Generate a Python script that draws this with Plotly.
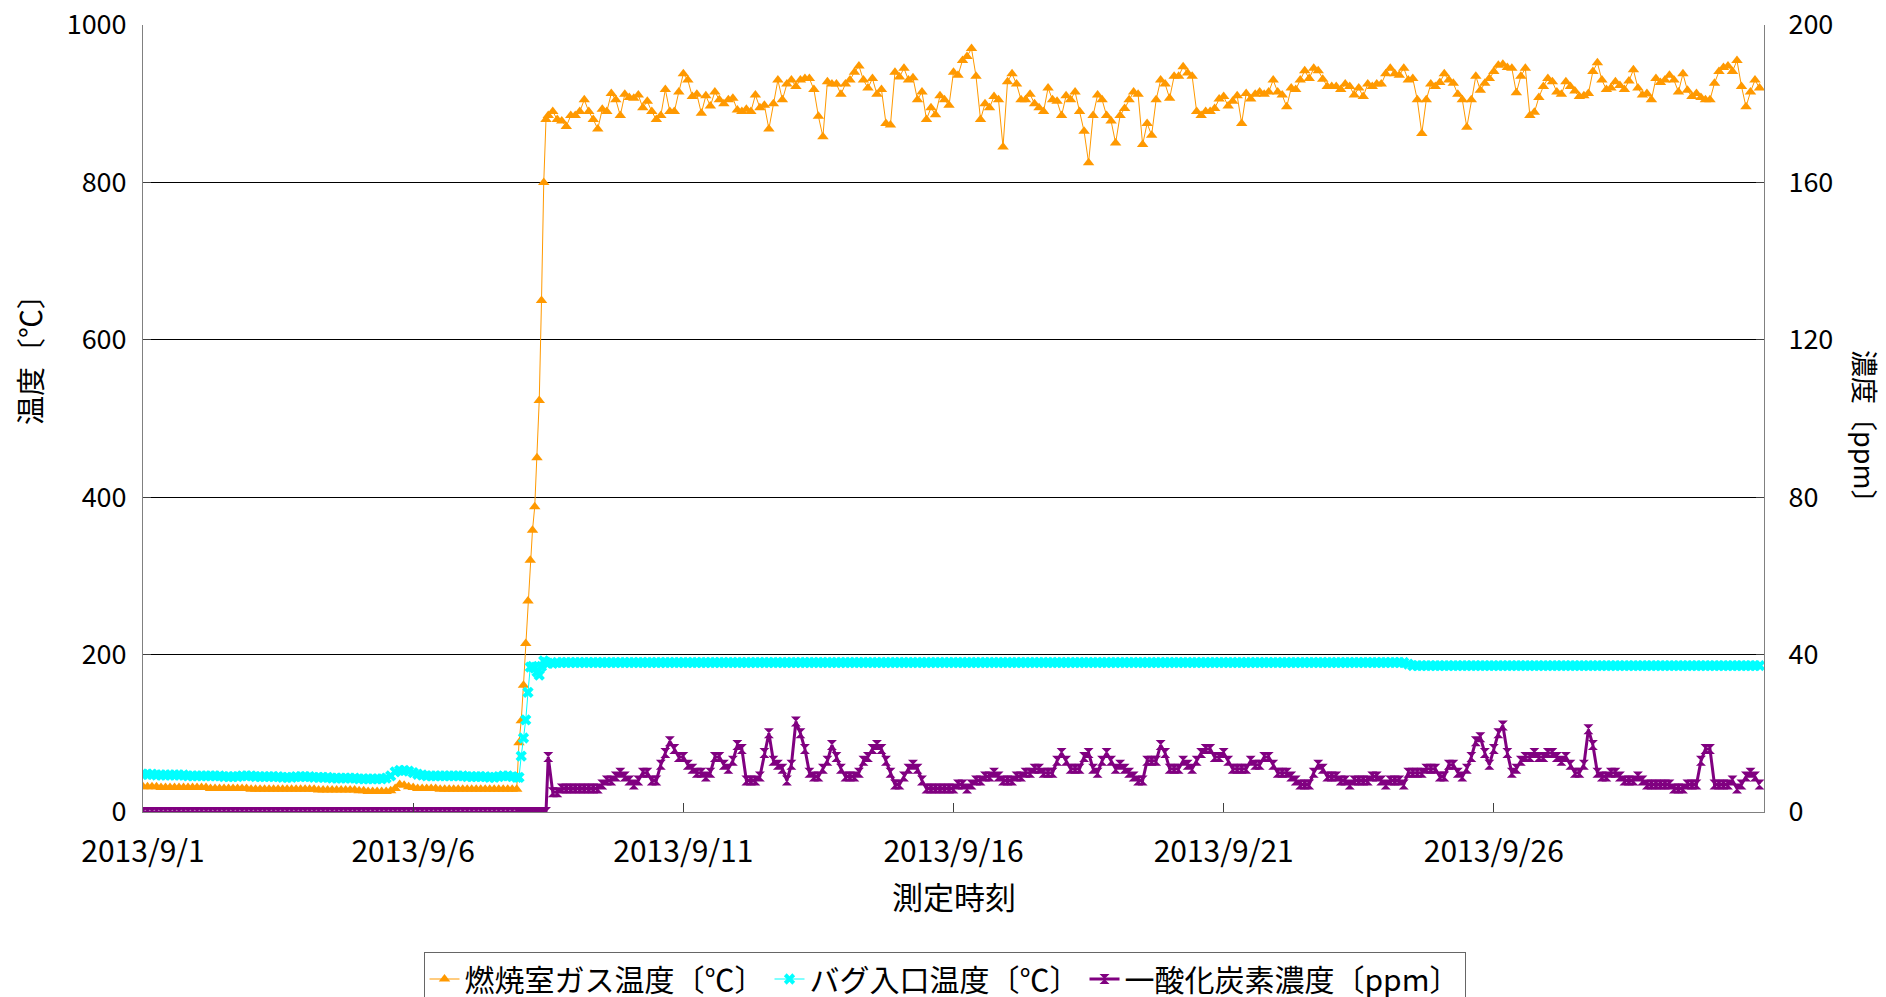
import pandas as pd
import plotly.graph_objects as go

# ---------------- data ----------------
# time bases: 2-hourly before the start-up, hourly during the start-up ramp, 2-hourly afterwards
pre_times = pd.date_range("2013-09-01 00:00", periods=84, freq="2h")
ramp_times = pd.date_range("2013-09-07 23:00", periods=13, freq="h")
post_times = pd.date_range("2013-09-08 12:00", periods=270, freq="2h")

# 燃焼室ガス温度 [℃]
furnace_pre = [
    32, 32, 32, 32, 31, 31, 31, 31, 31, 31, 31, 31,
    31, 31, 31, 30, 30, 30, 30, 30, 30, 30, 30, 30,
    29, 29, 29, 29, 29, 29, 29, 29, 29, 29, 29, 29,
    29, 29, 29, 28, 28, 28, 28, 28, 28, 28, 28, 28,
    27, 27, 26, 26, 26, 26, 26, 27, 30, 35, 34, 32,
    31, 30, 30, 30, 30, 30, 29, 29, 29, 29, 29, 29,
    29, 29, 29, 29, 29, 29, 29, 29, 29, 29, 29, 29,
]
furnace_ramp = [88, 116, 161, 214, 268, 320, 358, 388, 450, 523, 650, 800, 880]
furnace_post = [
    885, 890, 880, 878, 871, 885, 885, 890, 905, 890, 880, 868,
    893, 890, 913, 905, 885, 912, 908, 907, 911, 895, 903, 890,
    880, 885, 918, 890, 890, 915, 938, 930, 909, 912, 888, 910,
    897, 915, 905, 900, 905, 907, 892, 890, 893, 890, 911, 895,
    898, 868, 900, 930, 905, 925, 930, 922, 930, 932, 932, 918,
    884, 858, 928, 925, 925, 912, 925, 930, 940, 948, 930, 920,
    932, 912, 918, 875, 873, 940, 934, 945, 930, 933, 905, 915,
    880, 895,
    886, 910, 905, 898, 940, 936, 955, 960, 970, 935, 880, 900,
    895, 909, 905, 845, 928, 938, 925, 905, 905, 912, 900, 895,
    890, 920, 905, 903, 885, 910, 905, 915, 890, 865, 825, 885,
    911, 905, 885, 878, 850, 885, 894, 905, 915, 912, 848, 875,
    860, 905, 930, 925, 907, 935, 935, 947, 939, 935, 890, 885,
    890, 890, 894, 906, 909, 897, 903, 910, 875, 913, 906, 912,
    915, 912, 915, 930, 915, 911, 896, 920, 918, 930, 942, 932,
    945, 942, 931, 922, 922, 922, 918, 925,
    922, 911, 920, 909, 925, 922, 925, 925, 938, 945, 938, 936,
    945, 930, 932, 905, 862, 905, 925, 922, 927, 938, 930, 926,
    912, 905, 870, 905, 935, 917, 926, 932, 941, 949, 950, 946,
    945, 914, 935, 945, 885, 889, 908, 922, 932, 928, 915, 912,
    928, 922, 916, 909, 910, 913, 941, 952, 930, 918, 920, 928,
    923, 918, 929, 943, 920, 911, 913, 905, 932, 927, 930, 936,
    930, 915, 938, 917, 909, 913, 908, 905, 905, 926, 941, 946,
    948, 941, 955, 922, 896, 915, 930, 920,
]

# バグ入口温度 [℃]
bag_pre = [
    48, 48, 48, 47, 47, 47, 47, 47, 47, 47, 46, 46,
    46, 46, 46, 46, 46, 46, 45, 45, 45, 45, 46, 46,
    46, 45, 45, 45, 45, 45, 45, 44, 44, 44, 45, 45,
    45, 45, 44, 44, 44, 44, 43, 43, 43, 43, 43, 43,
    42, 42, 42, 42, 42, 42, 43, 46, 51, 53, 53, 52,
    50, 48, 47, 46, 46, 46, 46, 46, 46, 46, 46, 46,
    45, 45, 45, 45, 45, 44, 44, 45, 46, 46, 45, 44,
]
bag_ramp = [44, 71, 94, 117, 152, 184, 185, 183, 178, 174, 185, 192, 190]
bag_post = [
    189, 189, 190, 190, 190, 190, 190, 190, 190, 190, 190, 190,
    190, 190, 190, 190, 190, 190, 190, 190, 190, 190, 190, 190,
    190, 190, 190, 190, 190, 190, 190, 190, 190, 190, 190, 190,
    190, 190, 190, 190, 190, 190, 190, 190, 190, 190, 190, 190,
    190, 190, 190, 190, 190, 190, 190, 190, 190, 190, 190, 190,
    190, 190, 190, 190, 190, 190, 190, 190, 190, 190, 190, 190,
    190, 190, 190, 190, 190, 190, 190, 190, 190, 190, 190, 190,
    190, 190, 190, 190, 190, 190, 190, 190, 190, 190, 190, 190,
    190, 190, 190, 190, 190, 190, 190, 190, 190, 190, 190, 190,
    190, 190, 190, 190, 190, 190, 190, 190, 190, 190, 190, 190,
    190, 190, 190, 190, 190, 190, 190, 190, 190, 190, 190, 190,
    190, 190, 190, 190, 190, 190, 190, 190, 190, 190, 190, 190,
    190, 190, 190, 190, 190, 190, 190, 190, 190, 190, 190, 190,
    190, 190, 190, 190, 190, 190, 190, 190, 190, 190, 190, 190,
    190, 190, 190, 190, 190, 190, 190, 190, 190, 190, 190, 190,
    190, 190, 190, 190, 190, 190, 190, 190, 190, 190, 190, 188,
    186, 186, 186, 186, 186, 186, 186, 186, 186, 186, 186, 186,
    186, 186, 186, 186, 186, 186, 186, 186, 186, 186, 186, 186,
    186, 186, 186, 186, 186, 186, 186, 186, 186, 186, 186, 186,
    186, 186, 186, 186, 186, 186, 186, 186, 186, 186, 186, 186,
    186, 186, 186, 186, 186, 186, 186, 186, 186, 186, 186, 186,
    186, 186, 186, 186, 186, 186, 186, 186, 186, 186, 186, 186,
    186, 186, 186, 186, 186, 186,
]

# 一酸化炭素濃度 [ppm]
co_pre = [
    0, 0, 0, 0, 0, 0, 0, 0, 0, 0, 0, 0,
    0, 0, 0, 0, 0, 0, 0, 0, 0, 0, 0, 0,
    0, 0, 0, 0, 0, 0, 0, 0, 0, 0, 0, 0,
    0, 0, 0, 0, 0, 0, 0, 0, 0, 0, 0, 0,
    0, 0, 0, 0, 0, 0, 0, 0, 0, 0, 0, 0,
    0, 0, 0, 0, 0, 0, 0, 0, 0, 0, 0, 0,
    0, 0, 0, 0, 0, 0, 0, 0, 0, 0, 0, 0,
]
co_ramp = [0, 0, 0, 0, 0, 0, 0, 0, 0, 0, 0, 0, 0]
co_post = [
    14, 5, 5, 6, 6, 6, 6, 6, 6, 6, 6, 6,
    7, 8, 8, 9, 10, 9, 8, 7, 8, 10, 10, 8,
    8, 12, 15, 18, 16, 14, 14, 12, 11, 10, 10, 9,
    10, 14, 14, 12, 11, 13, 17, 16, 8, 8, 8, 9,
    15, 20, 13, 12, 11, 8, 12, 23, 20, 16, 10, 9,
    9, 11, 13, 17, 14, 11, 9, 9, 9, 10, 13, 14,
    16, 17, 16, 13, 10, 7, 7, 9, 11, 12, 11, 8,
    6, 6, 6, 6, 6, 6, 6, 7, 7, 6, 7, 8,
    8, 9, 9, 10, 9, 8, 8, 8, 9, 9, 10, 10,
    11, 11, 10, 10, 10, 13, 15, 13, 11, 11, 11, 14,
    15, 11, 10, 13, 15, 13, 11, 12, 11, 10, 9, 8,
    8, 13, 13, 13, 17, 15, 11, 11, 11, 13, 12, 11,
    13, 15, 16, 16, 14, 14, 15, 13, 11, 11, 11, 11,
    13, 12, 12, 14, 14, 12, 10, 10, 10, 9, 8, 7,
    7, 7, 10, 12, 11, 9, 9, 9, 8, 8, 7, 8,
    8, 8, 8, 9, 9, 8, 7, 8, 8, 8, 7, 10,
    10, 10, 10, 11, 11, 11, 9, 9, 12, 12, 10, 9,
    11, 14, 18, 19, 15, 12, 16, 20, 22, 15, 10, 11,
    13, 14, 14, 15, 14, 14, 15, 15, 14, 13, 14, 12,
    10, 10, 12, 21, 17, 10, 9, 9, 10, 10, 9, 8,
    8, 8, 9, 8, 7, 7, 7, 7, 7, 7, 6, 6,
    6, 7, 7, 7, 13, 16, 16, 7, 7, 7, 7, 8,
    6, 7, 9, 10, 9, 7,
]

series_names = ["燃焼室ガス温度〔℃〕", "バグ入口温度〔℃〕", "一酸化炭素濃度〔ppm〕"]
x_tick_dates = ["2013-09-01", "2013-09-06", "2013-09-11", "2013-09-16", "2013-09-21", "2013-09-26"]
x_tick_labels = ["2013/9/1", "2013/9/6", "2013/9/11", "2013/9/16", "2013/9/21", "2013/9/26"]
y_left_ticks = [0, 200, 400, 600, 800, 1000]
y_right_ticks = [0, 40, 80, 120, 160, 200]

times = list(pre_times) + list(ramp_times) + list(post_times)
furnace = furnace_pre + furnace_ramp + furnace_post
bag = bag_pre + bag_ramp + bag_post
co = co_pre + co_ramp + co_post

# ---------------- figure ----------------
# figure coordinates (the page body adds an 8 px offset)
W, H = 1886, 997
L, R, T, B = 135, 1756, 17, 804
FONT = "Noto Sans CJK JP"


def px(xp):
    return (xp - L) / (R - L)


def py(yp):
    return (B - yp) / (B - T)


fig = go.Figure()
fig.add_trace(go.Scatter(
    x=times, y=furnace, name=series_names[0], mode="lines+markers",
    line=dict(color="#FF9900", width=1),
    marker=dict(symbol="triangle-up", size=10, color="#FF9900", line=dict(width=0)),
))
fig.add_trace(go.Scatter(
    x=times, y=bag, name=series_names[1], mode="lines+markers",
    line=dict(color="#00FFFF", width=1),
    marker=dict(symbol="x", size=10, color="#00FFFF", line=dict(width=0)),
))
fig.add_trace(go.Scatter(
    x=times, y=co, name=series_names[2], mode="lines+markers", yaxis="y2",
    line=dict(color="#800080", width=3),
    marker=dict(symbol="hourglass", size=10, color="#800080", line=dict(width=0)),
))

fig.update_layout(
    width=W, height=H,
    margin=dict(l=L, r=W - R, t=T, b=H - B, pad=0, autoexpand=False),
    paper_bgcolor="white", plot_bgcolor="white",
    font=dict(family=FONT, size=29, color="black"),
    hovermode=False,
    legend=dict(
        orientation="h", xref="paper", yref="paper",
        x=px(936.5), xanchor="center", y=py(944), yanchor="top",
        bordercolor="#666666", borderwidth=1, bgcolor="white",
        font=dict(family=FONT, size=30, color="black"),
        tracegroupgap=0,
    ),
    xaxis=dict(
        type="date", range=["2013-09-01", "2013-10-01"],
        tickmode="array", tickvals=x_tick_dates, ticktext=x_tick_labels,
        ticks="inside", ticklen=9, tickcolor="#404040", tickwidth=1,
        showline=True, linecolor="#808080", linewidth=1,
        showgrid=False, zeroline=False,
        tickfont=dict(family=FONT, size=30, color="black"),
        ticklabelstandoff=13, ticklabeloverflow="allow",
    ),
    yaxis=dict(
        range=[0, 1000], tickmode="array", tickvals=y_left_ticks,
        ticks="inside", ticklen=8, tickcolor="#404040",
        showline=True, linecolor="#808080", linewidth=1,
        showgrid=True, gridcolor="#000000", gridwidth=1, zeroline=False,
        tickfont=dict(family=FONT, size=27, color="black"),
        ticklabelstandoff=10, ticklabeloverflow="allow",
    ),
    yaxis2=dict(
        range=[0, 200], tickmode="array", tickvals=y_right_ticks,
        overlaying="y", side="right",
        ticks="inside", ticklen=8, tickcolor="#404040",
        showline=True, linecolor="#808080", linewidth=1,
        showgrid=False, zeroline=False,
        tickfont=dict(family=FONT, size=27, color="black"),
        ticklabelstandoff=18, ticklabeloverflow="allow",
    ),
    annotations=[
        dict(text="温度〔℃〕", xref="paper", yref="paper", x=px(21), y=py(345),
             xanchor="center", yanchor="middle", textangle=-90, showarrow=False,
             font=dict(family=FONT, size=29, color="black")),
        dict(text="濃度〔ppm〕", xref="paper", yref="paper", x=px(1858), y=py(425),
             xanchor="center", yanchor="middle", textangle=90, showarrow=False,
             font=dict(family=FONT, size=27, color="black")),
        dict(text="測定時刻", xref="paper", yref="paper", x=px(946), y=py(888),
             xanchor="center", yanchor="middle", showarrow=False,
             font=dict(family=FONT, size=31, color="black")),
    ],
)

fig.write_html("out.html")
